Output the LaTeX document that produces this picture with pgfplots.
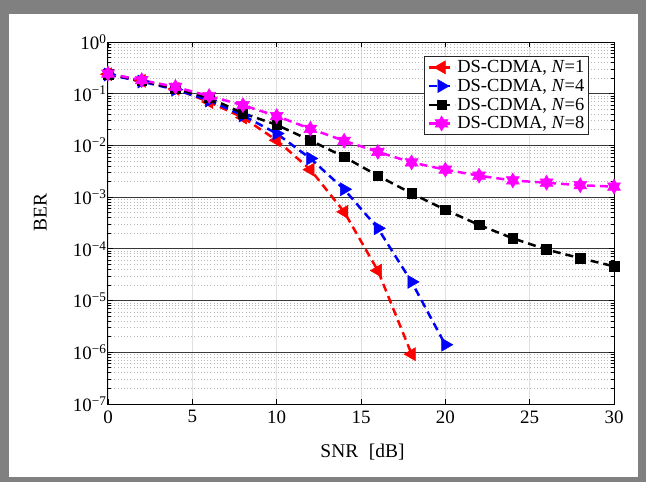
\documentclass[border=0pt]{standalone}
\usepackage{fontspec}
\setmainfont{Liberation Serif}
\usepackage{pgfplots}
\usepackage{pgfplotstable}
\pgfplotsset{compat=1.18}
\definecolor{mred}{RGB}{255,0,0}
\definecolor{mblue}{RGB}{0,0,255}
\definecolor{mmag}{RGB}{255,0,255}

\pgfdeclareplotmark{hexstar}{%
  \pgfpathmoveto{\pgfqpointpolar{90}{\pgfplotmarksize}}%
  \pgfpathlineto{\pgfqpointpolar{210}{\pgfplotmarksize}}%
  \pgfpathlineto{\pgfqpointpolar{330}{\pgfplotmarksize}}%
  \pgfpathclose
  \pgfpathmoveto{\pgfqpointpolar{30}{\pgfplotmarksize}}%
  \pgfpathlineto{\pgfqpointpolar{150}{\pgfplotmarksize}}%
  \pgfpathlineto{\pgfqpointpolar{270}{\pgfplotmarksize}}%
  \pgfpathclose
  \pgfusepathqfillstroke}

\pgfplotstableread{
x y
0 0.238
2 0.177
4 0.124
6 0.069
8 0.0346
10 0.0126
12 0.0034
14 5.2e-4
16 3.8e-5
18 9.2e-7
}\tabA
\pgfplotstableread{
x y
0 0.235
2 0.172
4 0.12
6 0.074
8 0.038
10 0.017
12 0.0056
14 1.42e-3
16 2.5e-4
18 2.3e-5
20 1.4e-6
}\tabB
\pgfplotstableread{
x y
0 0.24
2 0.178
4 0.125
6 0.083
8 0.042
10 0.025
12 0.0125
14 0.006
16 0.0026
18 0.00118
20 5.7e-4
22 2.9e-4
24 1.6e-4
26 9.7e-5
28 6.6e-5
30 4.6e-5
}\tabC
\pgfplotstableread{
x y
0 0.245
2 0.183
4 0.135
6 0.09
8 0.06
10 0.037
12 0.021
14 0.0123
16 0.0075
18 0.0047
20 0.0034
22 0.0026
24 0.0021
26 0.0019
28 0.0017
30 0.0016
}\tabD

\begin{document}
\begin{tikzpicture}
\fill[gray] (-108bp,-78bp) rectangle (538bp,404bp);
\fill[white] (-99bp,-73bp) rectangle (530bp,390bp);
% background grid axis
\begin{axis}[
  at={(0,0)}, anchor=south west,
  scale only axis, width=506bp, height=362bp,
  xmin=0, xmax=30, ymode=log, ymin=1e-7, ymax=1,
  xtick={0,5,...,30}, ytick={1e-7,1e-6,1e-5,1e-4,1e-3,1e-2,1e-1,1},
  xticklabels={}, yticklabels={},
  tick style={draw=none},
  axis line style={draw=none},
  xmajorgrids, yminorgrids,
  major grid style={solid, black!12, line width=1bp},
  minor grid style={black!28, line width=0.8bp, dash pattern=on 0.8bp off 2.4bp},
]
\end{axis}
\begin{axis}[
  at={(0,0)}, anchor=south west,
  scale only axis, width=506bp, height=362bp,
  xmin=0, xmax=30, ymode=log, ymin=1e-7, ymax=1,
  clip=false,
  xtick={0,5,...,30},
  ytick={1e-7,1e-6,1e-5,1e-4,1e-3,1e-2,1e-1,1},
  yticklabels={10\textsuperscript{−7},10\textsuperscript{−6},10\textsuperscript{−5},10\textsuperscript{−4},10\textsuperscript{−3},10\textsuperscript{−2},10\textsuperscript{−1},10\textsuperscript{0}},
  /pgf/number format/assume math mode=true,
  ticklabel style={font=\fontsize{19}{22}\selectfont},
  xticklabel style={yshift=-3bp},
  yticklabel style={xshift=2bp},
  tick align=inside,
  major tick length=5bp, minor tick length=3bp,
  tick style={black, line width=0.8bp},
  axis line style={black, line width=1bp},
  ymajorgrids,
  major grid style={solid, black!78, line width=0.9bp},
  xlabel={SNR\hspace{0.55em}[dB]},
  ylabel={BER},
  label style={font=\fontsize{19.5}{22}\selectfont},
  xlabel style={at={(axis description cs:0.503,-0.133)}, anchor=center},
  ylabel style={at={(axis description cs:-0.134,0.53)}, anchor=center},
  legend style={at={(0.95,0.961)}, anchor=north east,
    font=\fontsize{18.5}{20}\selectfont, draw=black!85, line width=0.8bp,
    inner sep=2.5bp, row sep=2bp,
    nodes={inner sep=1.5bp}},
  legend cell align=left,
  legend image code/.code={\draw[mark repeat=2,mark phase=2] plot coordinates {(0bp,0bp) (13bp,0bp) (26bp,0bp)};},
  every axis plot/.append style={line width=2.5bp, dash pattern=on 8bp off 5bp},
]
\addplot[mred, mark=triangle*, mark size=7.5bp, mark options={solid, rotate=90, fill=mred, line width=0.5bp}] table[x=x,y=y] {\tabA};
\addlegendentry{DS-CDMA, \textit{N}=1}
\addplot[mblue, mark=triangle*, mark size=7.5bp, mark options={solid, rotate=-90, fill=mblue, line width=0.5bp}] table[x=x,y=y] {\tabB};
\addlegendentry{DS-CDMA, \textit{N}=4}
\addplot[black, mark=square*, mark size=4.8bp, mark options={solid, fill=black, line width=0.5bp}] table[x=x,y=y] {\tabC};
\addlegendentry{DS-CDMA, \textit{N}=6}
\addplot[mmag, mark=hexstar, mark size=7.5bp, mark options={solid, fill=mmag, line width=0.5bp}] table[x=x,y=y] {\tabD};
\addlegendentry{DS-CDMA, \textit{N}=8}
\end{axis}
\end{tikzpicture}
\end{document}
